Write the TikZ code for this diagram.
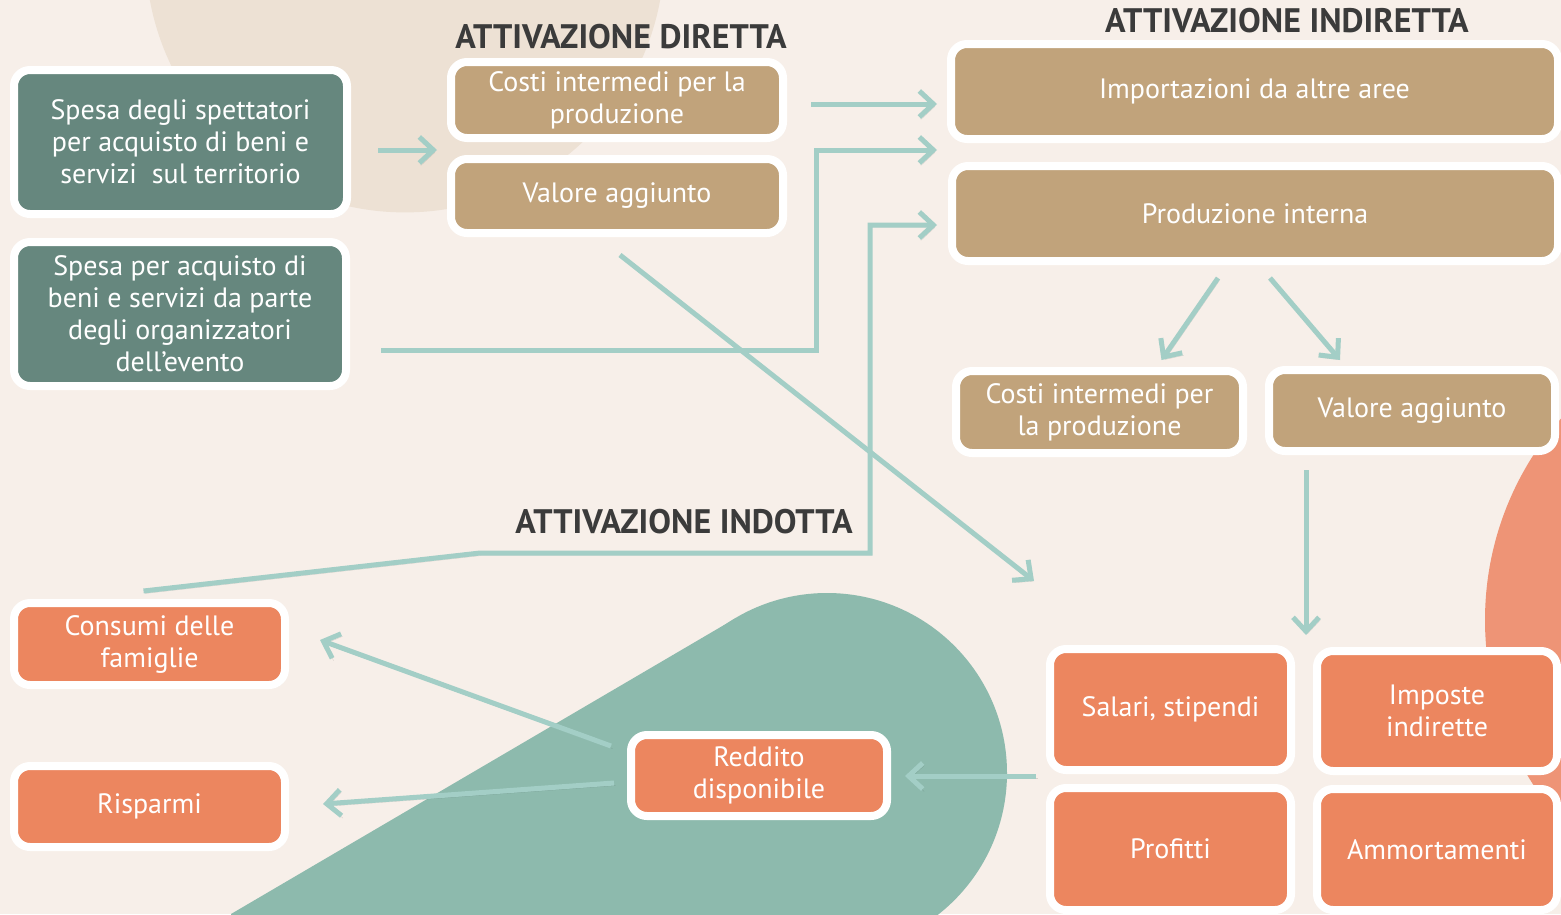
\documentclass[tikz,border=0pt]{standalone}
\usepackage{fontspec}
\setmainfont{PT Sans}
\newfontfamily\headfont{PT Sans}
\newfontfamily\boxfont{PT Sans}
\usetikzlibrary{arrows.meta,calc,shadows}
\definecolor{bgc}{HTML}{F7EFE9}
\definecolor{beigec}{HTML}{EDE1D4}
\definecolor{gboxc}{HTML}{66877E}
\definecolor{tboxc}{HTML}{C1A37B}
\definecolor{oboxc}{HTML}{EC865F}
\definecolor{oblobc}{HTML}{EE9476}
\definecolor{tblobc}{HTML}{8DBAAD}
\definecolor{arrc}{HTML}{A3CEC6}
\definecolor{headc}{HTML}{3B3B3B}
\begin{document}
\begin{tikzpicture}[x=1pt,y=-1pt,
  box/.style={draw=white, line width=8pt, rounded corners=16pt, text=white, align=center,
    font=\boxfont\fontsize{28}{32}\selectfont, inner sep=0pt, outer sep=4pt,
    drop shadow={shadow xshift=2pt, shadow yshift=-3pt, opacity=0.3, fill=black}},
  gbx/.style={box, fill=gboxc},
  tbx/.style={box, fill=tboxc},
  obx/.style={box, fill=oboxc},
  head/.style={font=\headfont\bfseries\fontsize{34}{36}\selectfont, text=headc, inner sep=0pt},
  arr/.style={draw=arrc, line width=5pt, -{Straight Barb[length=14pt,width=26pt]},
    preaction={draw=black, opacity=0.12, transform canvas={shift={(1.5pt,-2.5pt)}}}}
]
\useasboundingbox (0,0) rectangle (1561,914);
\fill[bgc] (0,0) rectangle (1561,914);
\begin{scope}
\clip (0,0) rectangle (1561,914);
\fill[beigec] (405,-47) circle[radius=259.4pt];
\fill[oblobc] (1790,620) circle[radius=305pt];
\fill[tblobc] (827,773) circle[radius=180pt];
\fill[tblobc] (231,914) -- (736,618) -- (827,773) -- (827,930) -- (231,930) -- cycle;
\end{scope}

% headings
\node[head] (hd) at (621,37) {ATTIVAZIONE DIRETTA};
\node[head] (hi) at (1287,21) {ATTIVAZIONE INDIRETTA};
\node[head] (ho) at (684,522) {ATTIVAZIONE INDOTTA};

% boxes
\node[gbx, minimum width=333pt, minimum height=144pt] (sp1) at (180.5,142)
  {Spesa degli spettatori\\per acquisto di beni e\\servizi\ \ sul territorio};
\node[gbx, minimum width=332pt, minimum height=144pt] (sp2) at (180,314)
  {Spesa per acquisto di\\beni e servizi da parte\\degli organizzatori\\dell’evento};
\node[tbx, minimum width=332pt, minimum height=76pt] (dc) at (617,100)
  {Costi intermedi per la\\produzione};
\node[tbx, minimum width=332pt, minimum height=74pt] (dv) at (617,196) {Valore aggiunto};
\node[tbx, minimum width=607pt, minimum height=95pt] (imp) at (1254.5,91.5) {Importazioni da altre aree};
\node[tbx, minimum width=606pt, minimum height=95pt] (prod) at (1255,213.5) {Produzione interna};
\node[tbx, minimum width=287pt, minimum height=82pt] (ic) at (1099.5,412) {Costi intermedi per\\la produzione};
\node[tbx, minimum width=286pt, minimum height=81pt] (iv) at (1412,410.5) {Valore aggiunto};
\node[obx, minimum width=241pt, minimum height=121pt] (sal) at (1170.5,709.5) {Salari, stipendi};
\node[obx, minimum width=240pt, minimum height=120pt] (imps) at (1437,711) {Imposte\\indirette};
\node[obx, minimum width=241pt, minimum height=122pt] (prof) at (1170.5,849) {Profitti};
\node[obx, minimum width=240pt, minimum height=121pt] (amm) at (1437,849.5) {Ammortamenti};
\node[obx, minimum width=271pt, minimum height=82pt] (cons) at (149.5,644) {Consumi delle\\famiglie};
\node[obx, minimum width=271pt, minimum height=81pt] (risp) at (149.5,806.5) {Risparmi};
\node[obx, minimum width=256pt, minimum height=81pt] (red) at (759,775.5) {Reddito\\disponibile};

\coordinate (e5) at (1034,581);

% arrows
\draw[arr] ($(sp1.east)+(27,8)$) -- ($(dc.south west)+(-10,8)$);
\draw[arr] ($(dc.east)+(24,4)$) -- ($(imp.west)+(-10,12.5)$);
\draw[arr] ($(sp2.east)+(31,36)$) -- (816,350) -- (816,150) -- ($(imp.south west)+(-10,7)$);
\draw[arr] ($(cons.north)+(-6,-8)$) -- (480,553) -- (870,553) -- (870,225) -- ($(prod.west)+(-11,11.5)$);
\draw[arr] ($(dv.south)+(3,18)$) -- (e5);
\draw[arr] ($(prod.south)+(-37,13)$) -- ($(ic.north)+(62,-7)$);
\draw[arr] ($(prod.south)+(15,13)$) -- ($(iv.north)+(-72,-6)$);
\draw[arr] ($(iv.south)+(-106,15)$) -- ($(sal.north east)+(11,-10)$);
\draw[arr] ($(sal.south west)+(-10,2)$) -- ($(red.east)+(14,0.5)$);
\draw[arr] ($(red.west)+(-16,-29.5)$) -- ($(cons.east)+(31,-4)$);
\draw[arr] ($(red.west)+(-13,7.5)$) -- ($(risp.east)+(34,-2.5)$);
\end{tikzpicture}
\end{document}
